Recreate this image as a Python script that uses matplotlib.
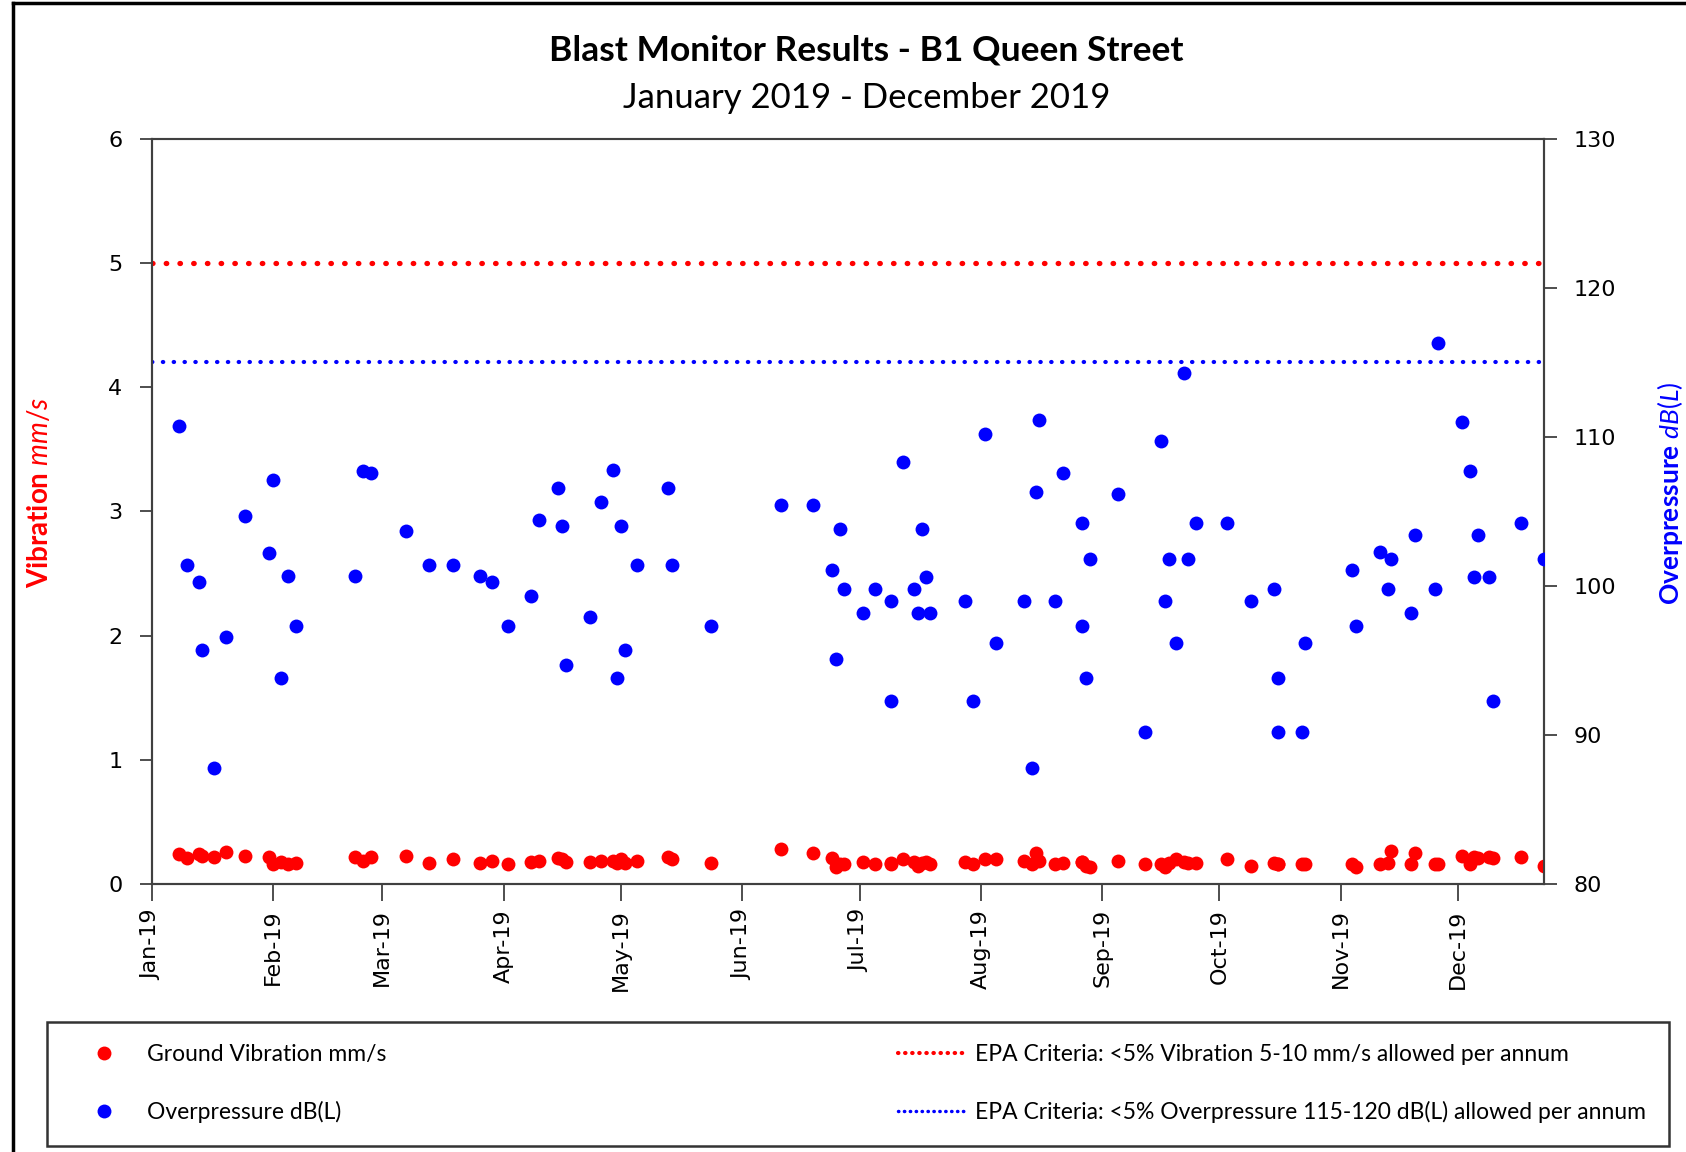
import matplotlib
matplotlib.use("Agg")
import matplotlib.pyplot as plt
import matplotlib.dates as mdates
from matplotlib.lines import Line2D
import pandas as pd

plt.rcParams['font.family'] = 'DejaVu Sans'
plt.rcParams['mathtext.fontset'] = 'custom'
plt.rcParams['mathtext.rm'] = 'Lato'
plt.rcParams['mathtext.it'] = 'Lato:italic'

# blast dates
dates = [
    "2019-01-08", "2019-01-10", "2019-01-13", "2019-01-14", "2019-01-17", "2019-01-20",
    "2019-01-25", "2019-01-31", "2019-02-01", "2019-02-03", "2019-02-05", "2019-02-07",
    "2019-02-22", "2019-02-24", "2019-02-26", "2019-03-07", "2019-03-13", "2019-03-19",
    "2019-03-26", "2019-03-29", "2019-04-02", "2019-04-08", "2019-04-10", "2019-04-15",
    "2019-04-16", "2019-04-17", "2019-04-23", "2019-04-26", "2019-04-29", "2019-04-30",
    "2019-05-01", "2019-05-02", "2019-05-05", "2019-05-13", "2019-05-14", "2019-05-24",
    "2019-06-11", "2019-06-19", "2019-06-24", "2019-06-26", "2019-06-25", "2019-06-27",
    "2019-07-02", "2019-07-05", "2019-07-09", "2019-07-09", "2019-07-12", "2019-07-15",
    "2019-07-16", "2019-07-17", "2019-07-18", "2019-07-19", "2019-07-28", "2019-07-30",
    "2019-08-02", "2019-08-05", "2019-08-12", "2019-08-14", "2019-08-15", "2019-08-16",
    "2019-08-20", "2019-08-22", "2019-08-27", "2019-08-27", "2019-08-28", "2019-08-29",
    "2019-09-05", "2019-09-12", "2019-09-16", "2019-09-17", "2019-09-18", "2019-09-20",
    "2019-09-22", "2019-09-23", "2019-09-25", "2019-10-03", "2019-10-09", "2019-10-15",
    "2019-10-16", "2019-10-16", "2019-10-22", "2019-10-23", "2019-11-04", "2019-11-05",
    "2019-11-11", "2019-11-13", "2019-11-14", "2019-11-19", "2019-11-20", "2019-11-25",
    "2019-11-26", "2019-12-02", "2019-12-04", "2019-12-05", "2019-12-06", "2019-12-09",
    "2019-12-10", "2019-12-17", "2019-12-23",
]

# overpressure dB(L)
overpressure = [
    110.7, 101.4, 100.3, 95.7, 87.8, 96.6,
    104.7, 102.2, 107.1, 93.8, 100.7, 97.3,
    100.7, 107.7, 107.6, 103.7, 101.4, 101.4,
    100.7, 100.3, 97.3, 99.3, 104.4, 106.6,
    104.0, 94.7, 97.9, 105.6, 107.8, 93.8,
    104.0, 95.7, 101.4, 106.6, 101.4, 97.3,
    105.4, 105.4, 101.1, 103.8, 95.1, 99.8,
    98.2, 99.8, 92.3, 99.0, 108.3, 99.8,
    98.2, 103.8, 100.6, 98.2, 99.0, 92.3,
    110.2, 96.2, 99.0, 87.8, 106.3, 111.1,
    99.0, 107.6, 104.2, 97.3, 93.8, 101.8,
    106.2, 90.2, 109.7, 99.0, 101.8, 96.2,
    114.3, 101.8, 104.2, 104.2, 99.0, 99.8,
    93.8, 90.2, 90.2, 96.2, 101.1, 97.3,
    102.3, 99.8, 101.8, 98.2, 103.4, 99.8,
    116.3, 111.0, 107.7, 100.6, 103.4, 100.6,
    92.3, 104.2, 101.8,
]

# ground vibration mm/s
vibration = [
    0.24, 0.21, 0.24, 0.23, 0.22, 0.26,
    0.23, 0.22, 0.16, 0.18, 0.16, 0.17,
    0.22, 0.19, 0.22, 0.23, 0.17, 0.20,
    0.17, 0.19, 0.16, 0.18, 0.19, 0.21,
    0.20, 0.18, 0.18, 0.19, 0.19, 0.17,
    0.20, 0.17, 0.19, 0.22, 0.20, 0.17,
    0.28, 0.25, 0.21, 0.16, 0.14, 0.16,
    0.18, 0.16, 0.16, 0.17, 0.20, 0.18,
    0.15, 0.17, 0.18, 0.16, 0.18, 0.16,
    0.20, 0.20, 0.19, 0.16, 0.25, 0.19,
    0.16, 0.17, 0.18, 0.18, 0.15, 0.14,
    0.19, 0.16, 0.16, 0.14, 0.17, 0.20,
    0.18, 0.17, 0.17, 0.20, 0.15, 0.17,
    0.16, 0.16, 0.16, 0.16, 0.16, 0.14,
    0.16, 0.17, 0.27, 0.16, 0.25, 0.16,
    0.16, 0.23, 0.16, 0.22, 0.21, 0.22,
    0.21, 0.22, 0.15,
]

vib_limit = 5      # mm/s
op_limit = 115     # dB(L)

x = pd.to_datetime(dates)

fig = plt.figure(figsize=(16.86, 11.52), dpi=100)
ax = fig.add_axes([0.0899, 0.2325, 0.8259, 0.6471])
ax2 = ax.twinx()

dot_style = (0, (0.1, 2.5))
ax.axhline(vib_limit, color='red', lw=3.8, linestyle=dot_style, dash_capstyle='round', zorder=1)
ax2.axhline(op_limit, color='blue', lw=3.0, linestyle=dot_style, dash_capstyle='round', zorder=1)

ax.plot(x, vibration, 'o', color='red', ms=10, mec='none', zorder=3)
ax2.plot(x, overpressure, 'o', color='blue', ms=10, mec='none', zorder=3)

ax.set_xlim(pd.Timestamp("2019-01-01"), pd.Timestamp("2019-12-23"))
ax.set_ylim(0, 6)
ax2.set_ylim(80, 130)
ax2.set_yticks(range(80, 131, 10))

ax.xaxis.set_major_locator(mdates.MonthLocator())
ax.xaxis.set_major_formatter(mdates.DateFormatter('%b-%y'))
for lab in ax.get_xticklabels():
    lab.set_rotation(90)

for a in (ax, ax2):
    for s in a.spines.values():
        s.set_color('#404040')
        s.set_linewidth(1.5)
ax.spines['top'].set_color('#808080')
ax.tick_params(axis='y', labelsize=16, length=9, width=1.3, pad=12, color='#404040')
ax.tick_params(axis='x', labelsize=16, length=12, width=1.3, pad=6, color='#404040')
ax2.tick_params(axis='y', labelsize=16, length=9, width=1.3, pad=12, color='#404040')

ax.set_ylabel(r'Vibration $\mathit{mm/s}$', color='red', fontsize=20, fontweight='bold', family='Lato')
ax.yaxis.set_label_coords(-0.071, 0.525)
ax2.set_ylabel(r'Overpressure $\mathit{dB(L)}$', color='blue', fontsize=19, fontweight='bold', family='Lato')
ax2.yaxis.set_label_coords(1.08, 0.525)

fig.text(0.514, 0.956, 'Blast Monitor Results - B1 Queen Street', ha='center', va='center',
         fontsize=25.5, fontweight='bold', family='Lato')
fig.text(0.514, 0.915, 'January 2019 - December 2019', ha='center', va='center',
         fontsize=25, family='Lato')

handles = [
    Line2D([], [], ls='none', marker='o', color='red', ms=10, mec='none'),
    Line2D([], [], ls='none', marker='o', color='blue', ms=10, mec='none'),
    Line2D([], [], color='red', lw=3, linestyle=(0, (0.1, 1.6)), dash_capstyle='round'),
    Line2D([], [], color='blue', lw=2.5, linestyle=(0, (0.1, 1.6)), dash_capstyle='round'),
]
labels = [
    'Ground Vibration mm/s',
    'Overpressure dB(L)',
    'EPA Criteria: <5% Vibration 5-10 mm/s allowed per annum',
    'EPA Criteria: <5% Overpressure 115-120 dB(L) allowed per annum',
]
leg = fig.legend(handles, labels, loc='center', bbox_to_anchor=(0.028, 0.0075, 0.962, 0.1035),
                 mode='expand', ncol=2, fancybox=False, edgecolor='#333333', framealpha=1,
                 prop={'family': 'Lato', 'size': 16.5}, handlelength=3.0, handletextpad=0.35,
                 labelspacing=1.55, borderpad=1.0, borderaxespad=0)
leg.get_frame().set_linewidth(1.8)

# outer frame of the chart area
fig.add_artist(Line2D([0.0077, 0.0077], [0, 0.997], color='black', lw=2.5))
fig.add_artist(Line2D([0.0077, 1.0], [0.997, 0.997], color='black', lw=2.5))

fig.savefig('out.png', dpi=100)
